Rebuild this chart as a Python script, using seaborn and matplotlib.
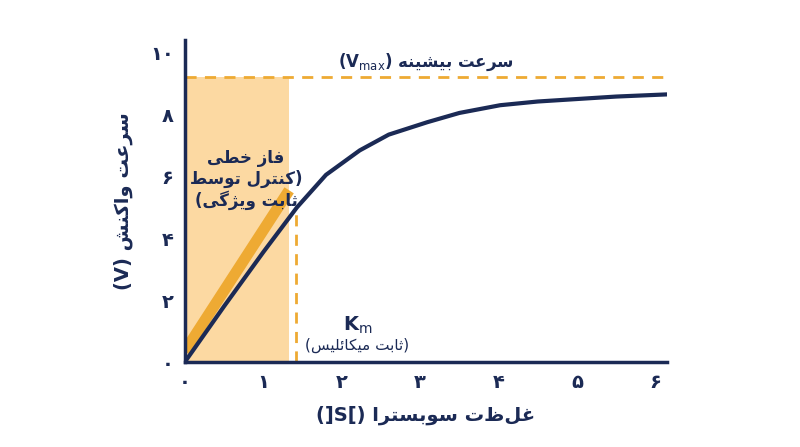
import seaborn as sns
import matplotlib.pyplot as plt
import pandas as pd

# curve
s_vals = [0, 0.5, 1.0, 1.43, 1.8, 2.23, 2.6, 3.09, 3.5, 4.02, 4.5, 5.0, 5.5, 6.15]
v_vals = [0, 1.8, 3.55, 5.0, 6.05, 6.84, 7.35, 7.75, 8.05, 8.3, 8.42, 8.5, 8.58, 8.65]
vmax = 9.2
km = 1.42
km_v = 5.0
linear_end = 1.33
tangent_s = [0, 1.33]
tangent_v = [0.35, 5.55]
x_ticks = [0, 1, 2, 3, 4, 5, 6]
y_ticks = [0, 2, 4, 6, 8, 10]

NAVY = "#1b2a55"
ORANGE = "#eeaa33"
SHADE = "#fcd9a2"

# minimal persian shaping (matplotlib does no arabic joining)
FORMS = {
    "ا": ("\uFE8D", "\uFE8E", None, None), "ب": ("\uFE8F", "\uFE90", "\uFE91", "\uFE92"),
    "ت": ("\uFE95", "\uFE96", "\uFE97", "\uFE98"), "ث": ("\uFE99", "\uFE9A", "\uFE9B", "\uFE9C"),
    "خ": ("\uFEA5", "\uFEA6", "\uFEA7", "\uFEA8"), "ر": ("\uFEAD", "\uFEAE", None, None),
    "ز": ("\uFEAF", "\uFEB0", None, None), "س": ("\uFEB1", "\uFEB2", "\uFEB3", "\uFEB4"),
    "ش": ("\uFEB5", "\uFEB6", "\uFEB7", "\uFEB8"), "ط": ("\uFEC1", "\uFEC2", "\uFEC3", "\uFEC4"),
    "ع": ("\uFEC9", "\uFECA", "\uFECB", "\uFECC"), "غ": ("\uFECD", "\uFECE", "\uFECF", "\uFED0"),
    "ف": ("\uFED1", "\uFED2", "\uFED3", "\uFED4"), "ل": ("\uFEDD", "\uFEDE", "\uFEDF", "\uFEE0"),
    "م": ("\uFEE1", "\uFEE2", "\uFEE3", "\uFEE4"), "ن": ("\uFEE5", "\uFEE6", "\uFEE7", "\uFEE8"),
    "ه": ("\uFEE9", "\uFEEA", "\uFEEB", "\uFEEC"), "و": ("\uFEED", "\uFEEE", None, None),
    "ئ": ("\uFE89", "\uFE8A", "\uFE8B", "\uFE8C"), "ژ": ("\uFB8A", "\uFB8B", None, None),
    "ک": ("\uFB8E", "\uFB8F", "\uFB90", "\uFB91"), "گ": ("\uFB92", "\uFB93", "\uFB94", "\uFB95"),
    "ی": ("\uFBFC", "\uFBFD", "\uFBFE", "\uFBFF"),
}


def fa(text):
    out = []
    for i, c in enumerate(text):
        if c not in FORMS:
            out.append(c)
            continue
        prev = text[i - 1] if i > 0 else ""
        nxt = text[i + 1] if i + 1 < len(text) else ""
        joins_prev = prev in FORMS and FORMS[prev][2] is not None
        joins_next = nxt in FORMS and FORMS[c][2] is not None
        iso, fin, ini, med = FORMS[c]
        if joins_prev and joins_next:
            out.append(med)
        elif joins_prev:
            out.append(fin)
        elif joins_next:
            out.append(ini)
        else:
            out.append(iso)
    vis = "".join(reversed(out))
    return vis.translate(str.maketrans("()", ")("))


def fa_num(n):
    return "".join(chr(0x06F0 + int(d)) for d in str(n))


sns.set_theme(style="white")
plt.rcParams["font.family"] = ["DejaVu Sans"]

fig = plt.figure(figsize=(8, 4.47), dpi=100)
ax = fig.add_axes([0.231, 0.19, 0.603, 0.72])

ax.axvspan(0, linear_end, ymax=vmax / 10.4, color=SHADE, lw=0)
sns.lineplot(x=tangent_s, y=tangent_v, ax=ax, color=ORANGE, lw=8, solid_capstyle="butt")
ax.axhline(vmax, color=ORANGE, lw=2, ls=(0, (4, 3)))
ax.plot([km, km], [0, km_v], color=ORANGE, lw=2, ls=(0, (4, 3)))
df = pd.DataFrame({"S": s_vals, "V": v_vals})
sns.lineplot(data=df, x="S", y="V", ax=ax, color=NAVY, lw=3)

ax.set_xlim(0, 6.15)
ax.set_ylim(0, 10.4)
ax.set_xticks(x_ticks)
ax.set_xticklabels([fa_num(t) for t in x_ticks])
ax.set_yticks(y_ticks)
ax.set_yticklabels([fa_num(t) for t in y_ticks])
ax.tick_params(colors=NAVY, labelsize=14, length=0, pad=8)
for t in ax.get_xticklabels() + ax.get_yticklabels():
    t.set_fontweight("bold")
for side in ["top", "right"]:
    ax.spines[side].set_visible(False)
for side in ["left", "bottom"]:
    ax.spines[side].set_color(NAVY)
    ax.spines[side].set_linewidth(2.5)

ax.set_xlabel(fa("غلظت سوبسترا ([S])"), color=NAVY, fontsize=14, fontweight="bold", labelpad=10)
ax.set_ylabel(fa("سرعت واکنش (V)"), color=NAVY, fontsize=14, fontweight="bold", labelpad=12)

ax.text(3.07, 9.7, "($\\mathbf{V}_{\\mathrm{max}}$) " + fa("سرعت بیشینه"), ha="center", va="center",
        color=NAVY, fontsize=12, fontweight="bold")
ax.text(0.78, 5.9, fa("فاز خطی") + "\n" + fa("(کنترل توسط") + "\n" + fa("ثابت ویژگی)"),
        ha="center", va="center", color=NAVY, fontsize=12, fontweight="bold", linespacing=1.15)
ax.text(2.2, 1.2, "$\\mathbf{K}_{\\mathrm{m}}$", ha="center", va="center", color=NAVY, fontsize=14)
ax.text(2.2, 0.55, fa("(ثابت میکائلیس)"), ha="center", va="center", color=NAVY, fontsize=11)

fig.savefig("out.png", dpi=100, facecolor="white")
